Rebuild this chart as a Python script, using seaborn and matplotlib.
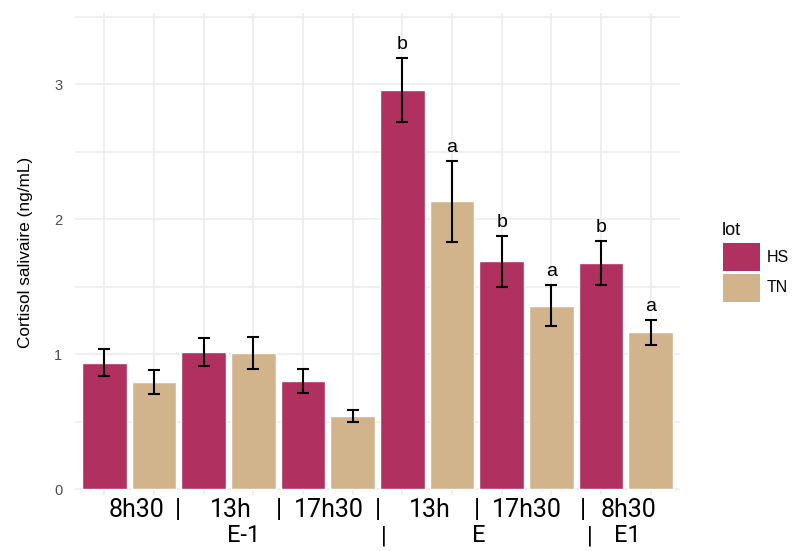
import numpy as np
import pandas as pd
import seaborn as sns
import matplotlib.pyplot as plt
import matplotlib.transforms as mtransforms
from matplotlib.patches import Rectangle
from matplotlib.ticker import MultipleLocator


slots = ['E-1 8h30', 'E-1 13h', 'E-1 17h30', 'E 13h', 'E 17h30', 'E1 8h30']
lots = ['HS', 'TN']

hs_mean = [0.935, 1.017, 0.80, 2.956, 1.687, 1.674]
hs_sd = [0.10, 0.105, 0.09, 0.24, 0.19, 0.163]
tn_mean = [0.795, 1.01, 0.54, 2.133, 1.358, 1.16]
tn_sd = [0.09, 0.12, 0.043, 0.30, 0.153, 0.095]
hs_letter = ['', '', '', 'b', 'b', 'b']
tn_letter = ['', '', '', 'a', 'a', 'a']

row1_labels = ['8h30', '|', '13h', '|', '17h30', '|', '13h', '|', '17h30', '|', '8h30']
row1_pos = [0.64, 1.48, 2.54, 3.51, 4.51, 5.50, 6.56, 7.51, 8.51, 9.63, 10.56]
row2_labels = ['E-1', '|', 'E', '|', 'E1']
row2_pos = [2.81, 5.62, 7.54, 9.77, 10.53]

colors = {'HS': '#B03060', 'TN': '#D2B48C'}

rows = []
for i, slot in enumerate(slots):
    rows.append((slot + ' HS', 'HS', hs_mean[i], hs_sd[i], hs_letter[i]))
    rows.append((slot + ' TN', 'TN', tn_mean[i], tn_sd[i], tn_letter[i]))
df = pd.DataFrame(rows, columns=['bar', 'lot', 'mean', 'sd', 'letter'])

sns.set_style('white')
plt.rcParams['font.family'] = ['Liberation Sans', 'DejaVu Sans']

W, H = 797, 551
fig = plt.figure(figsize=(W / 100, H / 100), dpi=100)
ax = fig.add_axes([0.0937, 0.1016, 0.760, 0.8748])

sns.barplot(data=df, x='bar', y='mean', hue='lot', palette=colors,
            order=list(df['bar']), dodge=False, width=0.9, saturation=1,
            errorbar=None, legend=False, ax=ax, zorder=2)

xs = np.arange(len(df))
ax.errorbar(xs, df['mean'], yerr=df['sd'], fmt='none', ecolor='black',
            elinewidth=1.5, capsize=4.4, capthick=1.5, zorder=3)

for x, m, s, lab in zip(xs, df['mean'], df['sd'], df['letter']):
    if lab:
        ax.annotate(lab, (x, m + s), xytext=(0, 3.5), textcoords='offset points',
                    ha='center', va='bottom', fontsize=14, color='black')

ax.set_xlim(-0.6, 11.6)
ax.set_ylim(-0.044, 3.526)
ax.set_yticks([0, 1, 2, 3])
ax.yaxis.set_minor_locator(MultipleLocator(0.5))
ax.set_xticks(xs)
ax.set_xticklabels([''] * len(xs))
ax.tick_params(axis='both', which='both', length=0)
ax.tick_params(axis='y', pad=9, labelsize=10.5, labelcolor='#4D4D4D')
ax.grid(True, which='major', axis='x', color='#EBEBEB', lw=1.1, zorder=0)
ax.grid(True, which='both', axis='y', color='#EBEBEB', lw=1.1, zorder=0)
ax.set_axisbelow(True)
ax.set_xlabel('')
ax.set_ylabel('')
sns.despine(ax=ax, left=True, bottom=True)

fig.text(26 / W, 1 - 252 / H, 'Cortisol salivaire (ng/mL)', rotation=90,
         ha='center', va='center', fontsize=12.4, color='black')

trans = mtransforms.blended_transform_factory(ax.transData, fig.transFigure)
for lab, p in zip(row1_labels, row1_pos):
    ax.text(p, 1 - 510 / H, lab, transform=trans, ha='center', va='center',
            fontsize=18, family=['Roboto', 'DejaVu Sans'], color='black')
for lab, p in zip(row2_labels, row2_pos):
    ax.text(p, 1 - 536 / H, lab, transform=trans, ha='center', va='center',
            fontsize=17, family=['Roboto', 'DejaVu Sans'], color='black')

# legend drawn by hand to get the wide ggplot-style keys
fig.text(722 / W, 1 - 235 / H, 'lot', ha='left', va='baseline',
         fontsize=13, color='black')
for k, top in zip(lots, [243, 274]):
    fig.add_artist(Rectangle((722.7 / W, 1 - (top + 28) / H), 37.3 / W, 28 / H,
                             transform=fig.transFigure, facecolor=colors[k],
                             edgecolor='none'))
    fig.text(767 / W, 1 - (top + 14) / H, k, ha='left', va='center',
             fontsize=11.5, color='black')

fig.savefig('out.png', dpi=100)
